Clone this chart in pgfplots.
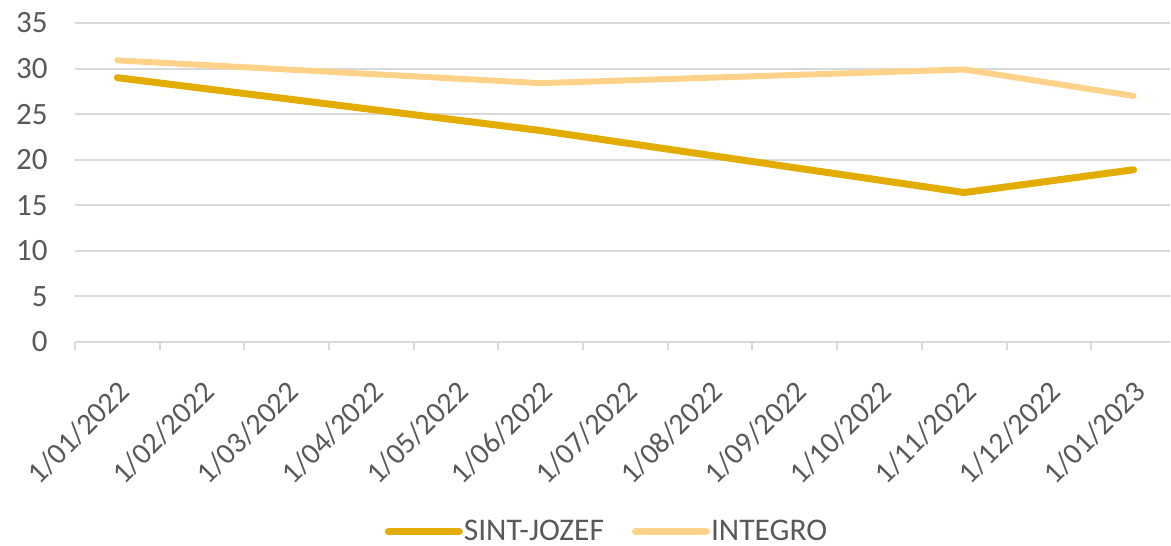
\documentclass[border=0pt]{standalone}
\usepackage{pgfplots}
\pgfplotsset{compat=1.18}
\usepackage{fontspec}
\setmainfont{Carlito}
\definecolor{sj}{RGB}{226,172,0}
\definecolor{ig}{RGB}{255,210,137}
\definecolor{gridc}{RGB}{217,217,217}
\definecolor{txt}{RGB}{89,89,89}
\begin{document}
\begin{tikzpicture}
\useasboundingbox (-75pt,-204pt) rectangle (1096pt,342pt);
\begin{axis}[
  at={(0pt,0pt)}, anchor=south west,
  scale only axis, width=1095pt, height=319pt,
  xmin=-0.5, xmax=12.43, ymin=0, ymax=35,
  axis x line*=bottom, axis y line*=left,
  x axis line style={-, gridc, line width=2pt},
  y axis line style={draw=none},
  ytick={0,5,...,35},
  ymajorgrids, grid style={gridc, line width=2pt},
  xtick={0,...,12},
  xticklabels={1/01/2022,1/02/2022,1/03/2022,1/04/2022,1/05/2022,1/06/2022,1/07/2022,1/08/2022,1/09/2022,1/10/2022,1/11/2022,1/12/2022,1/01/2023},
  minor xtick={-0.5,0.5,...,11.5},
  tick align=outside,
  major tick length=0pt,
  minor tick length=8pt,
  minor tick style={gridc, line width=2pt},
  major tick style={draw=none},
  /pgf/number format/assume math mode=true,
  ticklabel style={font=\fontsize{31}{31}\selectfont, text=txt},
  xticklabel style={font=\fontsize{30}{30}\selectfont},
  yticklabel style={anchor=east, xshift=-24pt},
  xticklabel style={xshift=-1pt, yshift=-32pt, rotate=45, anchor=north east},
  legend columns=2,
  legend style={draw=none, fill=none, at={(0.4854,-0.594)}, anchor=center,
    font=\fontsize{31.5}{31.5}\selectfont, text=txt,
    nodes={inner sep=1pt},
    /tikz/every even column/.append style={column sep=27pt}},
  legend image code/.code={\draw[line width=7.5pt, line cap=round] (3.75pt,0pt) -- (74.25pt,0pt);},
]
\addplot[sj, line width=7pt, line cap=round, line join=round] coordinates {(0,29) (5,23.2) (10,16.4) (12,18.9)};
\addlegendentry{SINT-JOZEF}
\addplot[ig, line width=6pt, line cap=round, line join=round] coordinates {(0,30.9) (5,28.4) (10,29.9) (12,27.0)};
\addlegendentry{INTEGRO}
\end{axis}
\end{tikzpicture}
\end{document}
